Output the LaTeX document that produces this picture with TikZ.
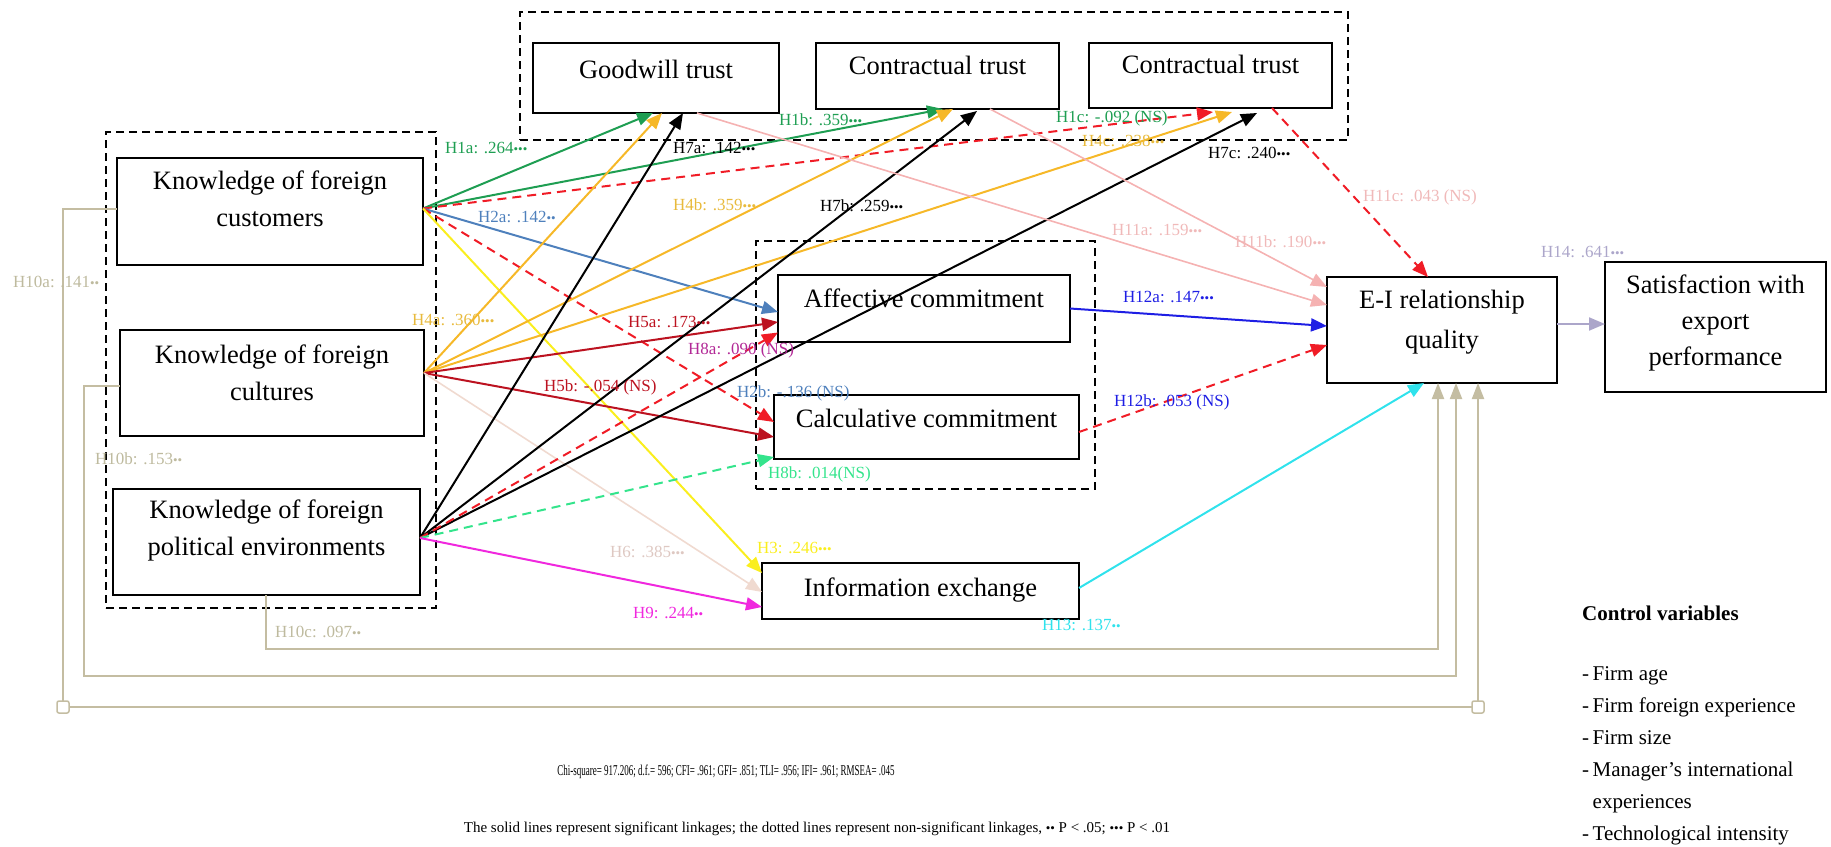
\documentclass[tikz,border=0pt]{standalone}
\usepackage{fontspec}
\usepackage{graphicx}
\setmainfont{Liberation Serif}
\usetikzlibrary{arrows.meta,calc}

\definecolor{hgreen}{RGB}{30,158,82}
\definecolor{hred}{RGB}{240,28,38}
\definecolor{hsteel}{RGB}{78,128,188}
\definecolor{hyellow}{RGB}{250,238,30}
\definecolor{horange}{RGB}{246,184,40}
\definecolor{horangetxt}{RGB}{232,186,60}
\definecolor{hdarkred}{RGB}{188,18,32}
\definecolor{hpale}{RGB}{240,218,208}
\definecolor{hpaletxt}{RGB}{222,200,194}
\definecolor{hpurple}{RGB}{178,40,150}
\definecolor{hmint}{RGB}{52,228,140}
\definecolor{hmagenta}{RGB}{240,40,222}
\definecolor{htan}{RGB}{196,189,162}
\definecolor{htantxt}{RGB}{190,186,158}
\definecolor{hpink}{RGB}{245,178,178}
\definecolor{hpinktxt}{RGB}{240,185,185}
\definecolor{hblue}{RGB}{30,30,228}
\definecolor{hcyan}{RGB}{48,226,236}
\definecolor{hlav}{RGB}{172,166,202}

% significance dots, set a little smaller than the label text
\newcommand{\sigdots}[1]{\raisebox{0.5pt}{\fontsize{13}{13}\selectfont #1}}

\begin{document}
\begin{tikzpicture}[x=1pt,y=-1pt,
  box/.style={draw=black, line width=2.2pt, inner sep=0pt, outer sep=0pt, anchor=north west},
  boxtxt/.style={align=center, font=\fontsize{26.5}{37}\selectfont, inner sep=0pt},
  grp/.style={draw=black, line width=2pt, dash pattern=on 8pt off 5pt, inner sep=0pt, outer sep=0pt, anchor=north west},
  lnk/.style={line width=2pt, -{Triangle[length=16pt,width=13pt]}},
  ns/.style={lnk, dash pattern=on 9pt off 6pt},
  lbl/.style={font=\fontsize{17}{17}\selectfont, anchor=west, inner sep=0pt},
  ctrl/.style={draw=htan, line width=2pt, -{Triangle[length=16pt,width=12pt]}},
  sq/.style={draw=htan, fill=white, line width=1.5pt, minimum size=12pt, rounded corners=2pt, inner sep=0pt}
]
\useasboundingbox (0,0) rectangle (1831,846);

% group frames
\node[grp, minimum width=828pt, minimum height=128pt] (gtop) at (520,12) {};
\node[grp, minimum width=330pt, minimum height=476pt] (gleft) at (106,132) {};
\node[grp, minimum width=339pt, minimum height=248pt] (gmid) at (756,241) {};

% constructs
\node[box, minimum width=246pt, minimum height=70pt] (gw) at (533,43) {};
\node[box, minimum width=243pt, minimum height=66pt] (ct1) at (816,43) {};
\node[box, minimum width=243pt, minimum height=65pt] (ct2) at (1089,43) {};
\node[box, minimum width=306pt, minimum height=107pt] (kc) at (117,158) {};
\node[box, minimum width=304pt, minimum height=106pt] (kcu) at (120,330) {};
\node[box, minimum width=307pt, minimum height=106pt] (kp) at (113,489) {};
\node[box, minimum width=292pt, minimum height=67pt] (af) at (778,275) {};
\node[box, minimum width=305pt, minimum height=64pt] (ca) at (774,395) {};
\node[box, minimum width=317pt, minimum height=56pt] (ie) at (762,563) {};
\node[box, minimum width=230pt, minimum height=106pt] (ei) at (1327,277) {};
\node[box, minimum width=221pt, minimum height=130pt] (sat) at (1605,262) {};

\node[boxtxt] (tgw) at ([yshift=9pt]gw.center) {Goodwill trust};
\node[boxtxt] (tct1) at ([yshift=11pt]ct1.center) {Contractual trust};
\node[boxtxt] (tct2) at ([yshift=11pt]ct2.center) {Contractual trust};
\node[boxtxt] (tkc) at ([yshift=13pt]kc.center) {Knowledge of foreign\\customers};
\node[boxtxt] (tkcu) at ([yshift=10pt]kcu.center) {Knowledge of foreign\\cultures};
\node[boxtxt] (tkp) at ([yshift=12pt]kp.center) {Knowledge of foreign\\political environments};
\node[boxtxt] (taf) at ([yshift=10pt]af.center) {Affective commitment};
\node[boxtxt] (tca) at ([yshift=9pt]ca.center) {Calculative commitment};
\node[boxtxt] (tie) at ([yshift=1pt]ie.center) {Information exchange};
\node[boxtxt, font=\fontsize{26.5}{40}\selectfont] (tei) at ([yshift=8pt]ei.center) {E-I relationship\\quality};
\node[boxtxt, font=\fontsize{26.5}{36}\selectfont] (tsat) at ([yshift=4pt]sat.center) {Satisfaction with\\export\\performance};

% links from knowledge of foreign customers
\draw[lnk, hgreen] ([yshift=3pt]kc.east) -- ([xshift=120pt]gw.south west);
\draw[lnk, hgreen] ([yshift=3pt]kc.east) -- ([xshift=127pt]ct1.south west);
\draw[ns, hred] ([yshift=3pt]kc.east) -- ([xshift=124pt,yshift=-4pt]ct2.south west);
\draw[lnk, hsteel] ([yshift=3pt]kc.east) -- ([yshift=-3.5pt]af.west);
\draw[ns, hred] ([yshift=3pt]kc.east) -- ([yshift=5pt]ca.west);
\draw[lnk, hyellow] ([yshift=3pt]kc.east) -- ([yshift=18pt]ie.west);

% links from knowledge of foreign cultures
\draw[lnk, horange] ([yshift=10pt]kcu.east) -- ([xshift=129pt]gw.south west);
\draw[lnk, horange] ([yshift=10pt]kcu.east) -- ([xshift=137pt]ct1.south west);
\draw[lnk, horange] ([yshift=10pt]kcu.east) -- ([xshift=143pt,yshift=-4pt]ct2.south west);
\draw[lnk, hdarkred] ([yshift=10pt]kcu.east) -- ([yshift=-13.5pt]af.west);
\draw[lnk, hdarkred] ([yshift=10pt]kcu.east) -- ([yshift=-10pt]ca.west);
\draw[lnk, hpale, line width=1.6pt] ([yshift=10pt]kcu.east) -- ([yshift=-1pt]ie.west);

% links from knowledge of foreign political environments
\draw[lnk, black] ([yshift=4pt]kp.east) -- ([xshift=150pt]gw.south west);
\draw[lnk, black] ([yshift=4pt]kp.east) -- ([xshift=161pt,yshift=-2pt]ct1.south west);
\draw[lnk, black] ([yshift=4pt]kp.east) -- ([xshift=168pt,yshift=-5pt]ct2.south west);
\draw[ns, hred] ([yshift=4pt]kp.east) -- ([yshift=-24pt]af.west);
\draw[ns, hmint] ([yshift=4pt]kp.east) -- ([yshift=2pt]ca.south west);
\draw[lnk, hmagenta] ([yshift=4pt]kp.east) -- ([yshift=-16pt]ie.west);

% links into E-I relationship quality
\draw[lnk, hpink, line width=1.6pt] ([xshift=164pt]gw.south west) -- ([yshift=25pt]ei.west);
\draw[lnk, hpink, line width=1.6pt] ([xshift=174pt]ct1.south west) -- ([yshift=43pt]ei.west);
\draw[ns, hred] ([xshift=183pt]ct2.south west) -- ([xshift=101pt]ei.north west);
\draw[lnk, hblue] (af.east) -- ([yshift=4pt]ei.west);
\draw[ns, hred] ([yshift=-5pt]ca.east) -- ([yshift=-15pt]ei.west);
\draw[lnk, hcyan] ([yshift=3pt]ie.east) -- ([xshift=97pt]ei.south west);
\draw[lnk, hlav] ([yshift=6pt]ei.east) -- ([yshift=3pt]sat.west);

% direct links from knowledge to relationship quality
\coordinate (ka1) at (63,707);  \coordinate (ka2) at (1478,707);
\coordinate (kb1) at (84,676);  \coordinate (kb2) at (1456,676);
\coordinate (kd1) at (266,649); \coordinate (kd2) at (1438,649);
\draw[ctrl] ([yshift=2.5pt]kc.west) -| (ka1) -- (ka2) -- ([xshift=151pt]ei.south west);
\draw[ctrl] ([yshift=-3pt]kcu.west) -| (kb1) -- (kb2) -- ([xshift=129pt]ei.south west);
\draw[ctrl] ([xshift=153pt]kp.south west) -- (kd1) -- (kd2) -- ([xshift=111pt]ei.south west);
\node[sq] (sqa) at (ka1) {};
\node[sq] (sqb) at (ka2) {};

% path coefficients
\node[lbl, text=hgreen] (l1a) at (445,148) {H1a: .264\sigdots{•••}};
\node[lbl, text=black] (l7a) at (673,148) {H7a: .142\sigdots{•••}};
\node[lbl, text=hsteel] (l2a) at (478,217) {H2a: .142\sigdots{••}};
\node[lbl, text=hgreen] (l1b) at (779,120) {H1b: .359\sigdots{•••}};
\node[lbl, text=hgreen] (l1c) at (1056,118) {H1c: -.092 (NS)};
\node[lbl, text=horangetxt] (l4c) at (1082,141) {H4c: .238\sigdots{•••}};
\node[lbl, text=horangetxt] (l4b) at (673,205) {H4b: .359\sigdots{•••}};
\node[lbl, text=black] (l7b) at (820,206) {H7b: .259\sigdots{•••}};
\node[lbl, text=black] (l7c) at (1208,153) {H7c: .240\sigdots{•••}};
\node[lbl, text=hpinktxt] (l11a) at (1112,230) {H11a: .159\sigdots{•••}};
\node[lbl, text=hpinktxt] (l11b) at (1235,242) {H11b: .190\sigdots{•••}};
\node[lbl, text=hpinktxt] (l11c) at (1363,197) {H11c: .043 (NS)};
\node[lbl, text=hblue] (l12a) at (1123,297) {H12a: .147\sigdots{•••}};
\node[lbl, text=hblue] (l12b) at (1114,402) {H12b: .053 (NS)};
\node[lbl, text=hlav] (l14) at (1541,252) {H14: .641\sigdots{•••}};
\node[lbl, text=hcyan] (l13) at (1042,625) {H13: .137\sigdots{••}};
\node[lbl, text=horangetxt] (l4a) at (412,320) {H4a: .360\sigdots{•••}};
\node[lbl, text=hdarkred] (l5a) at (628,322) {H5a: .173\sigdots{•••}};
\node[lbl, text=hpurple] (l8a) at (688,350) {H8a: .090 (NS)};
\node[lbl, text=hdarkred] (l5b) at (544,387) {H5b: -.054 (NS)};
\node[lbl, text=hsteel] (l2b) at (737,393) {H2b: -.136 (NS)};
\node[lbl, text=hmint] (l8b) at (768,474) {H8b: .014(NS)};
\node[lbl, text=hpaletxt] (l6) at (610,552) {H6: .385\sigdots{•••}};
\node[lbl, text=hyellow] (l3) at (757,548) {H3: .246\sigdots{•••}};
\node[lbl, text=hmagenta] (l9) at (633,613) {H9: .244\sigdots{••}};
\node[lbl, text=htantxt] (l10a) at (13,282) {H10a: .141\sigdots{••}};
\node[lbl, text=htantxt] (l10b) at (95,459) {H10b: .153\sigdots{••}};
\node[lbl, text=htantxt] (l10c) at (275,632) {H10c: .097\sigdots{••}};

% control variables
\node[anchor=west, inner sep=0pt, font=\bfseries\fontsize{21}{21}\selectfont] (cvh) at (1582,613) {Control variables};
\node[anchor=north west, inner sep=0pt, align=left, font=\fontsize{21}{32}\selectfont] (cvl) at (1582,666)
  {-\,Firm age\\-\,Firm foreign experience\\-\,Firm size\\-\,Manager’s international\\\phantom{-\,}experiences\\-\,Technological intensity};

% fit indices (set in a narrow face) and legend
\node[inner sep=0pt, font=\fontsize{15}{15}\selectfont] (fit) at (726,772)
  {\scalebox{0.6}[1]{Chi-square= 917.206; d.f.= 596; CFI= .961; GFI= .851; TLI= .956; IFI= .961; RMSEA= .045}};
\node[inner sep=0pt, font=\fontsize{15}{15}\selectfont] (leg) at (817,829)
  {The solid lines represent significant linkages; the dotted lines represent non-significant linkages, \sigdots{••} P < .05; \sigdots{•••} P < .01};
\end{tikzpicture}
\end{document}
